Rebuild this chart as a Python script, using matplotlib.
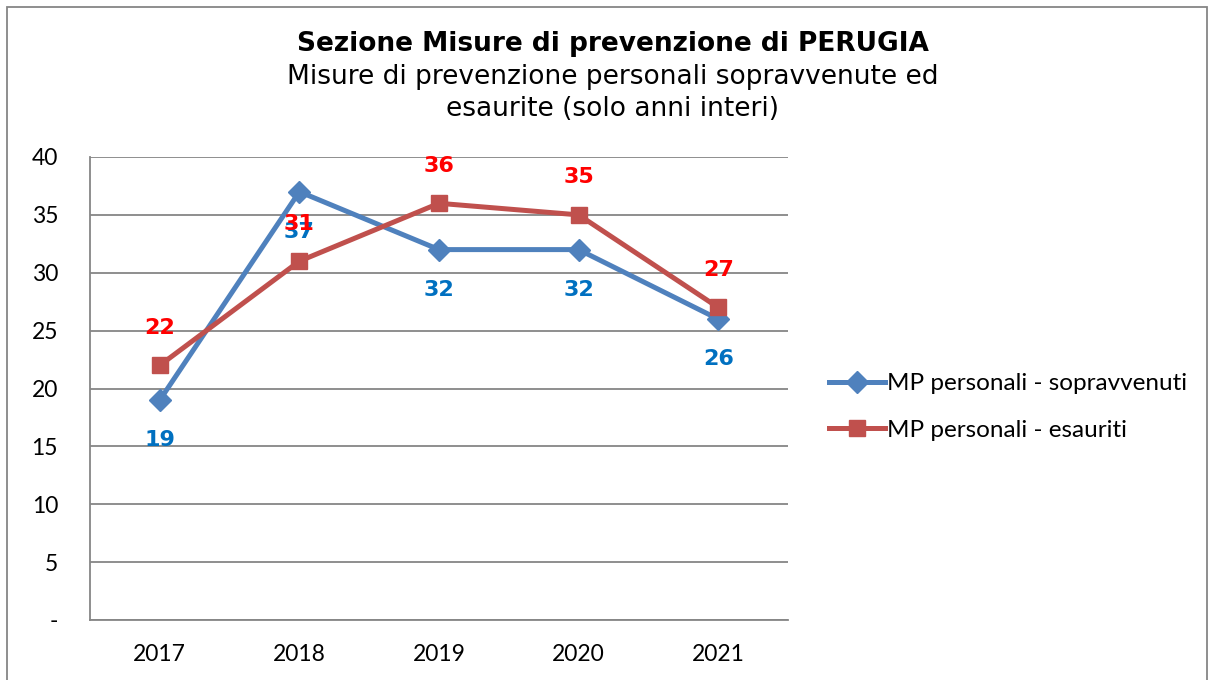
import matplotlib.pyplot as plt
from matplotlib.patches import Rectangle

years = ['2017', '2018', '2019', '2020', '2021']
sopravvenuti = [19, 37, 32, 32, 26]
esauriti = [22, 31, 36, 35, 27]
yticks = [0, 5, 10, 15, 20, 25, 30, 35, 40]
ytick_labels = ['-', '5', '10', '15', '20', '25', '30', '35', '40']

fig = plt.figure(figsize=(12.13, 6.8), dpi=100)
W, H = 1213, 680
ax = fig.add_axes([90 / W, 1 - 620 / H, 698 / W, 463 / H])

x = list(range(len(years)))
ax.plot(x, sopravvenuti, color='#4F81BD', lw=3.6, marker='D', ms=11,
        label='MP personali - sopravvenuti', zorder=3)
ax.plot(x, esauriti, color='#C0504D', lw=3.6, marker='s', ms=12,
        label='MP personali - esauriti', zorder=3)

for xi, v in zip(x, sopravvenuti):
    ax.annotate(str(v), (xi, v), xytext=(0, -29), textcoords='offset points',
                ha='center', va='center', color='#0070C0', fontsize=16,
                fontweight='bold', family='DejaVu Sans', zorder=4)
for xi, v in zip(x, esauriti):
    ax.annotate(str(v), (xi, v), xytext=(0, 27), textcoords='offset points',
                ha='center', va='center', color='#FF0000', fontsize=16,
                fontweight='bold', family='DejaVu Sans', zorder=5)

ax.set_xlim(-0.5, 4.5)
ax.set_ylim(0, 40)
ax.set_yticks(yticks)
ax.set_yticklabels(ytick_labels)
ax.set_xticks(x)
ax.set_xticklabels(years)
ax.tick_params(length=0, labelsize=16.5)
ax.tick_params(axis='y', pad=23)
ax.tick_params(axis='x', pad=17)
for lab in ax.get_xticklabels() + ax.get_yticklabels():
    lab.set_family('Lato')
ax.grid(axis='y', color='#868686', lw=1.3)
ax.set_axisbelow(True)
for s in ['top', 'right']:
    ax.spines[s].set_visible(False)
for s in ['left', 'bottom']:
    ax.spines[s].set_color('#868686')
    ax.spines[s].set_linewidth(1.3)

leg = fig.legend(loc='center left', bbox_to_anchor=(807 / W, 1 - 407 / H),
                 frameon=False, handlelength=2.3,
                 handletextpad=0.1, labelspacing=1.05,
                 prop={'family': 'Lato', 'size': 17.5})

fig.text(0.505, 1 - 44 / H, 'Sezione Misure di prevenzione di PERUGIA',
         ha='center', va='center', fontsize=19, fontweight='bold',
         family='DejaVu Sans')
fig.text(0.505, 1 - 93 / H,
         'Misure di prevenzione personali sopravvenute ed\nesaurite (solo anni interi)',
         ha='center', va='center', fontsize=19, family='DejaVu Sans',
         linespacing=1.3)

fig.patches.append(Rectangle((7 / W, -0.05), 1200 / W, 1 - 7 / H + 0.05,
                             transform=fig.transFigure, fill=False,
                             edgecolor='#868686', lw=1.3))

fig.savefig('out.png', dpi=100)
